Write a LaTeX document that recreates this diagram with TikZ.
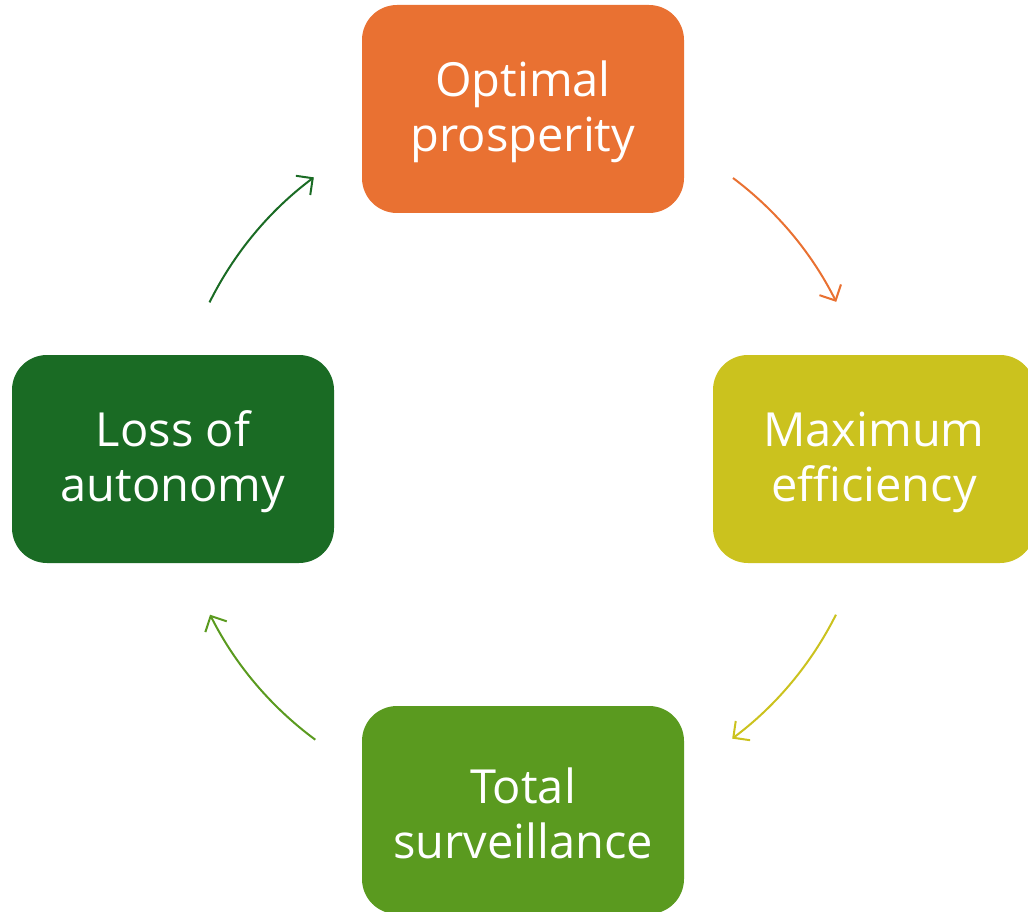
\documentclass[tikz,border=0pt]{standalone}
\usepackage{fontspec}
\setmainfont{Open Sans}
\usetikzlibrary{arrows.meta}
\definecolor{cOrange}{HTML}{E97132}
\definecolor{cYellow}{HTML}{CBC21E}
\definecolor{cLight}{HTML}{5A9A1F}
\definecolor{cDark}{HTML}{1A6B24}
\newcommand{\boxtext}[2]{\raisebox{-3pt}[\height][\depth]{\parbox{300pt}{\centering #1\\#2}}}
\begin{document}
\begin{tikzpicture}[x=1pt,y=1pt,
  box/.style={rounded corners=35pt, minimum width=322pt, minimum height=208pt,
    inner sep=0pt, text=white, align=center,
    font=\fontsize{47}{55}\selectfont},
  cyc/.style={line width=2pt, -{Straight Barb[length=12pt,width=24pt,line width=2pt]}}]
\useasboundingbox (0,0) rectangle (1028,-912);
\clip (0,0) rectangle (1028,-912);
\coordinate (c) at (523,-458);
\node[box, fill=cOrange] (top) at (523,-109) {\boxtext{Optimal}{prosperity}};
\node[box, fill=cYellow] (right) at (874,-459) {\boxtext{Maximum}{efficiency}};
\node[box, fill=cLight] (bottom) at (523,-810) {\boxtext{Total}{surveillance}};
\node[box, fill=cDark] (left) at (173,-459) {\boxtext{Loss of}{autonomy}};
\coordinate (a1) at ([shift={(53.13:350)}]c);
\coordinate (a2) at ([shift={(-26.6:350)}]c);
\coordinate (a3) at ([shift={(-126.4:350)}]c);
\coordinate (a4) at ([shift={(153.6:350)}]c);
\draw[cyc, cOrange] (a1) arc[start angle=53.13, end angle=26.5, radius=350];
\draw[cyc, cYellow] (a2) arc[start angle=-26.6, end angle=-53.3, radius=350];
\draw[cyc, cLight] (a3) arc[start angle=-126.4, end angle=-153.4, radius=350];
\draw[cyc, cDark] (a4) arc[start angle=153.6, end angle=126.7, radius=350];
\end{tikzpicture}
\end{document}
